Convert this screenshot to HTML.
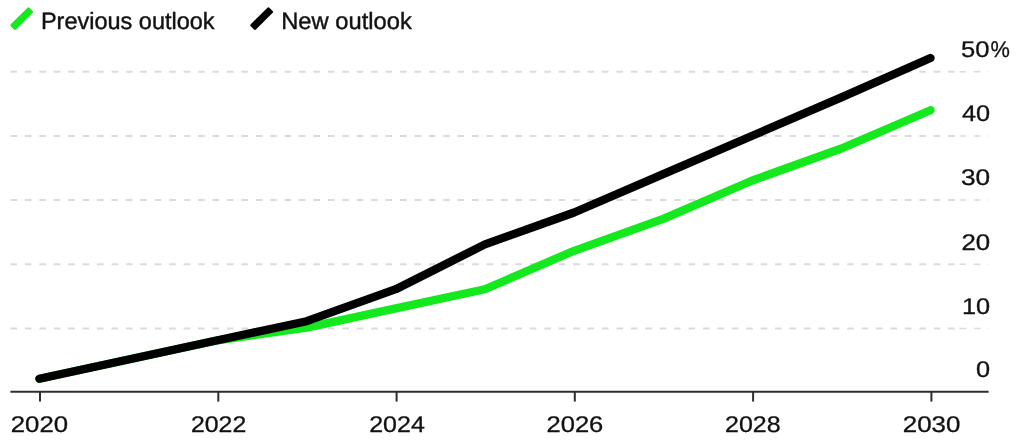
<!DOCTYPE html>
<html lang="en"><head><meta charset="utf-8"><title>Outlook chart</title>
<style>
html,body{margin:0;padding:0;background:#fff;}
body{width:1024px;height:443px;overflow:hidden;}
svg{display:block;}
text{font-family:"Liberation Sans",Arial,sans-serif;font-size:22.7px;fill:#111;stroke:#111;stroke-width:0.3px;text-rendering:geometricPrecision;}
text.lg{font-size:23.6px;stroke-width:0.4px;}
</style></head><body>
<svg width="1024" height="443" viewBox="0 0 1024 443">
<rect width="1024" height="443" fill="#fff"/>
<g stroke="#dbdbdb" stroke-width="2" stroke-dasharray="6.6 7.826" fill="none"><line x1="10.5" x2="955" y1="71.80" y2="71.80"/><line x1="10.5" x2="955" y1="135.95" y2="135.95"/><line x1="10.5" x2="955" y1="200.10" y2="200.10"/><line x1="10.5" x2="955" y1="264.25" y2="264.25"/><line x1="10.5" x2="955" y1="328.40" y2="328.40"/></g>
<g stroke="#dbdbdb" stroke-width="1.5" stroke-dasharray="6.6 7.8" fill="none"><line x1="959.5" x2="989" y1="71.80" y2="71.80"/><line x1="959.5" x2="989" y1="135.95" y2="135.95"/><line x1="959.5" x2="989" y1="200.10" y2="200.10"/><line x1="959.5" x2="989" y1="264.25" y2="264.25"/><line x1="959.5" x2="989" y1="328.40" y2="328.40"/></g>
<g stroke="#2e2e2e" stroke-width="2" fill="none"><line x1="10.4" x2="988.6" y1="391.7" y2="391.7"/><line x1="40.0" x2="40.0" y1="391.7" y2="401.6"/><line x1="218.3" x2="218.3" y1="391.7" y2="401.6"/><line x1="396.6" x2="396.6" y1="391.7" y2="401.6"/><line x1="574.8" x2="574.8" y1="391.7" y2="401.6"/><line x1="753.1" x2="753.1" y1="391.7" y2="401.6"/><line x1="931.4" x2="931.4" y1="391.7" y2="401.6"/></g>
<polyline points="39.4,378.7 128.5,359.5 217.6,340.3 306.7,327.6 395.8,308.4 484.9,289.2 574.1,250.8 663.2,218.9 752.3,180.5 841.4,148.5 930.5,110.2" fill="none" stroke="#13e91d" stroke-width="8.3" stroke-linecap="round" stroke-linejoin="round"/>
<polyline points="39.4,378.7 128.5,359.5 217.6,340.3 306.7,321.2 395.8,289.2 484.9,244.4 574.1,212.5 663.2,174.1 752.3,135.7 841.4,97.4 930.5,58.0" fill="none" stroke="#000" stroke-width="8.3" stroke-linecap="round" stroke-linejoin="round"/>
<rect x="-13.2" y="-3.7" width="26.4" height="7.4" rx="1.4" transform="translate(21.75 18.6) rotate(-45)" fill="#13e91d"/>
<rect x="-13.2" y="-3.7" width="26.4" height="7.4" rx="1.4" transform="translate(261.7 18.6) rotate(-45)" fill="#000"/>
<text transform="translate(40.90 28.60) scale(0.9957 1)" class="lg">Previous outlook</text>
<text transform="translate(281.20 28.60) scale(1.0060 1)" class="lg">New outlook</text>
<g><text transform="translate(961.04 57.35) scale(1.1272 1)">50<tspan dx="0.80" textLength="17.19" lengthAdjust="spacingAndGlyphs">%</tspan></text><text transform="translate(990.20 121.20) scale(1.1160 1)" text-anchor="end">40</text><text transform="translate(990.20 185.35) scale(1.1551 1)" text-anchor="end">30</text><text transform="translate(990.20 249.50) scale(1.1383 1)" text-anchor="end">20</text><text transform="translate(990.20 313.65) scale(1.1160 1)" text-anchor="end">10</text><text transform="translate(990.20 377.00) scale(1.1160 1)" text-anchor="end">0</text></g>
<g><text transform="translate(39.40 432.00) scale(1.1344 1)" text-anchor="middle">2020</text><text transform="translate(218.55 432.00) scale(1.0956 1)" text-anchor="middle">2022</text><text transform="translate(397.00 432.00) scale(1.1017 1)" text-anchor="middle">2024</text><text transform="translate(574.90 432.00) scale(1.1263 1)" text-anchor="middle">2026</text><text transform="translate(752.80 432.00) scale(1.1017 1)" text-anchor="middle">2028</text><text transform="translate(931.55 432.00) scale(1.1406 1)" text-anchor="middle">2030</text></g>
</svg>
</body></html>
